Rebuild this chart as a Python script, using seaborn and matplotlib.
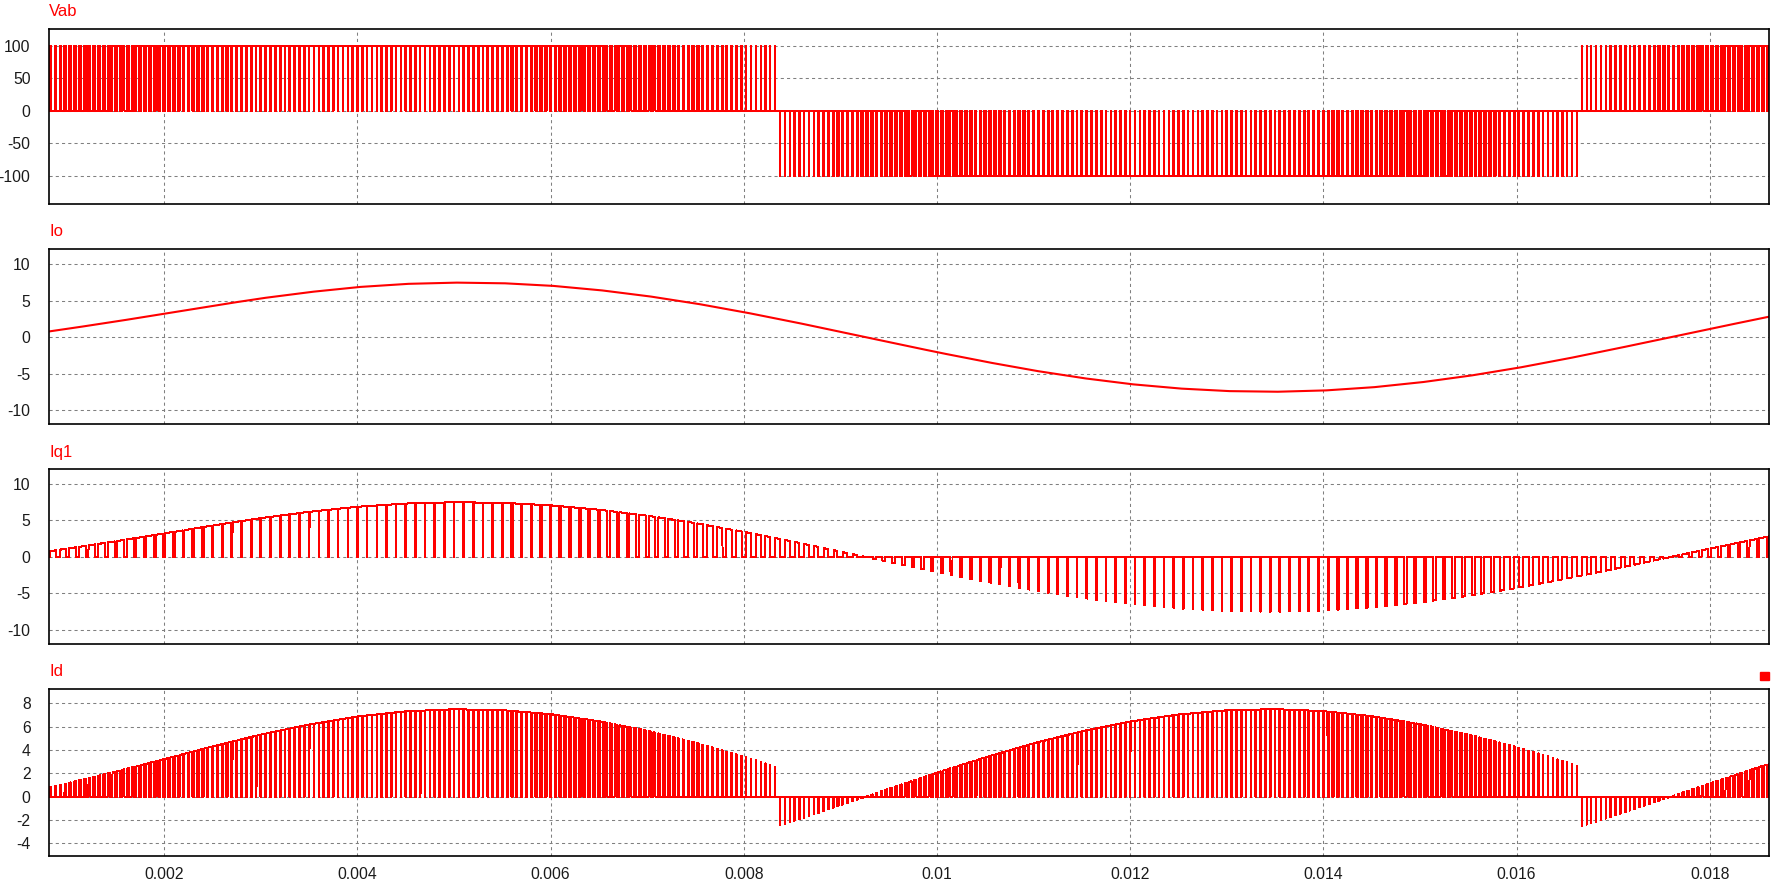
import numpy as np
import pandas as pd
import matplotlib
matplotlib.use("Agg")
import matplotlib.pyplot as plt
from matplotlib.patches import Rectangle
import seaborn as sns

# 读图得到的数据（时间单位：秒）
t_knots = [0.0008, 0.001, 0.0015, 0.002, 0.0025, 0.003, 0.0035, 0.004, 0.0045, 0.005,
           0.0055, 0.006, 0.0065, 0.007, 0.0075, 0.008, 0.0085, 0.009, 0.0095, 0.010,
           0.0105, 0.011, 0.0115, 0.012, 0.0125, 0.013, 0.0135, 0.014, 0.0145, 0.015,
           0.0155, 0.016, 0.0165, 0.017, 0.0175, 0.018, 0.0185, 0.0187]
# 负载电流 Io
io_knots = [0.77, 1.15, 2.15, 3.22, 4.30, 5.32, 6.18, 6.87, 7.31, 7.49,
            7.41, 7.07, 6.47, 5.65, 4.63, 3.44, 2.13, 0.74, -0.67, -2.06,
            -3.37, -4.57, -5.60, -6.44, -7.04, -7.40, -7.50, -7.33, -6.90, -6.22,
            -5.33, -4.25, -3.01, -1.67, -0.27, 1.13, 2.50, 3.04]
# 调制波（由 Vab 脉宽估读）
ref_knots = [0.267, 0.331, 0.482, 0.616, 0.728, 0.814, 0.872, 0.898, 0.893, 0.856,
             0.789, 0.693, 0.574, 0.434, 0.278, 0.113, -0.057, -0.224, -0.383, -0.529,
             -0.656, -0.760, -0.837, -0.884, -0.900, -0.884, -0.837, -0.760, -0.656, -0.529,
             -0.383, -0.224, -0.057, 0.113, 0.278, 0.434, 0.574, 0.624]
v_dc = 100.0
f_carrier = 10000.0

panel_names = ["Vab", "Io", "Iq1", "Id"]
panel_yticks = [[-100, -50, 0, 50, 100],
                [-10, -5, 0, 5, 10],
                [-10, -5, 0, 5, 10],
                [-4, -2, 0, 2, 4, 6, 8]]
panel_ylims = [(-143, 125), (-11.96, 12.06), (-11.96, 12.0), (-5.11, 9.2)]
x_ticks = [0.002, 0.004, 0.006, 0.008, 0.01, 0.012, 0.014, 0.016, 0.018]
x_lim = (0.00081, 0.018617)

# 单极性 SPWM：调制波与 10 kHz 三角载波比较
t = np.arange(0.0008, 0.0187, 2e-7)
ref = np.interp(t, t_knots, ref_knots)
io = np.interp(t, t_knots, io_knots)
phase = (t * f_carrier) % 1.0
carrier = 2 * np.abs(2 * phase - 1) - 1
sa = (ref > carrier).astype(float)
sb = (-ref > carrier).astype(float)
vab = v_dc * (sa - sb)
iq1 = io * sa
idc = io * (sa - sb)

df = pd.DataFrame({"t": t, "Vab": vab, "Io": io, "Iq1": iq1, "Id": idc})

sns.set_style("white")
plt.rcParams["font.family"] = ["Liberation Sans", "DejaVu Sans"]
plt.rcParams["axes.unicode_minus"] = False

W, H = 1776, 883
fig = plt.figure(figsize=(W / 100, H / 100), dpi=100)

# 各子图的上下边界（像素）
boxes = [(29.3, 204.0), (249.3, 424.3), (469.3, 644.3), (689.3, 856.3)]
label_y = [11, 232, 452, 672]
left, right = 49.3, 1769.3

for i, name in enumerate(panel_names):
    top, bottom = boxes[i]
    ax = fig.add_axes([left / W, 1 - bottom / H, (right - left) / W, (bottom - top) / H])
    if name == "Io":
        sns.lineplot(data=df, x="t", y=name, ax=ax, color="#ff0000", linewidth=1.5,
                     estimator=None, sort=False)
    else:
        sns.lineplot(data=df, x="t", y=name, ax=ax, color="#ff0000", linewidth=0.72,
                     estimator=None, sort=False, drawstyle="steps-post",
                     antialiased=False)
    ax.set_xlim(*x_lim)
    ax.set_ylim(*panel_ylims[i])
    ax.set_yticks(panel_yticks[i])
    ax.set_xticks(x_ticks)
    ax.set_xticklabels(["%g" % v for v in x_ticks])
    ax.set_xlabel("")
    ax.set_ylabel("")
    ax.set_axisbelow(True)
    ax.grid(True, color="#808080", linestyle=(0, (3, 3)), linewidth=0.75)
    ax.tick_params(axis="both", length=0, labelsize=11.3, colors="#1a1a1a")
    ax.tick_params(axis="y", pad=13.5)
    ax.tick_params(axis="x", pad=8)
    if i < 3:
        ax.tick_params(axis="x", labelbottom=False)
    for sp in ax.spines.values():
        sp.set_color("black")
        sp.set_linewidth(1.2)
    fig.text(left / W, 1 - label_y[i] / H, name, color="#ff0000", fontsize=12,
             ha="left", va="center")

# 右上角的小红方块
fig.add_artist(Rectangle((1760 / W, 1 - 680 / H), 9 / W, 8 / H,
                         transform=fig.transFigure, color="#ff0000"))

fig.savefig("out.png", dpi=100)
